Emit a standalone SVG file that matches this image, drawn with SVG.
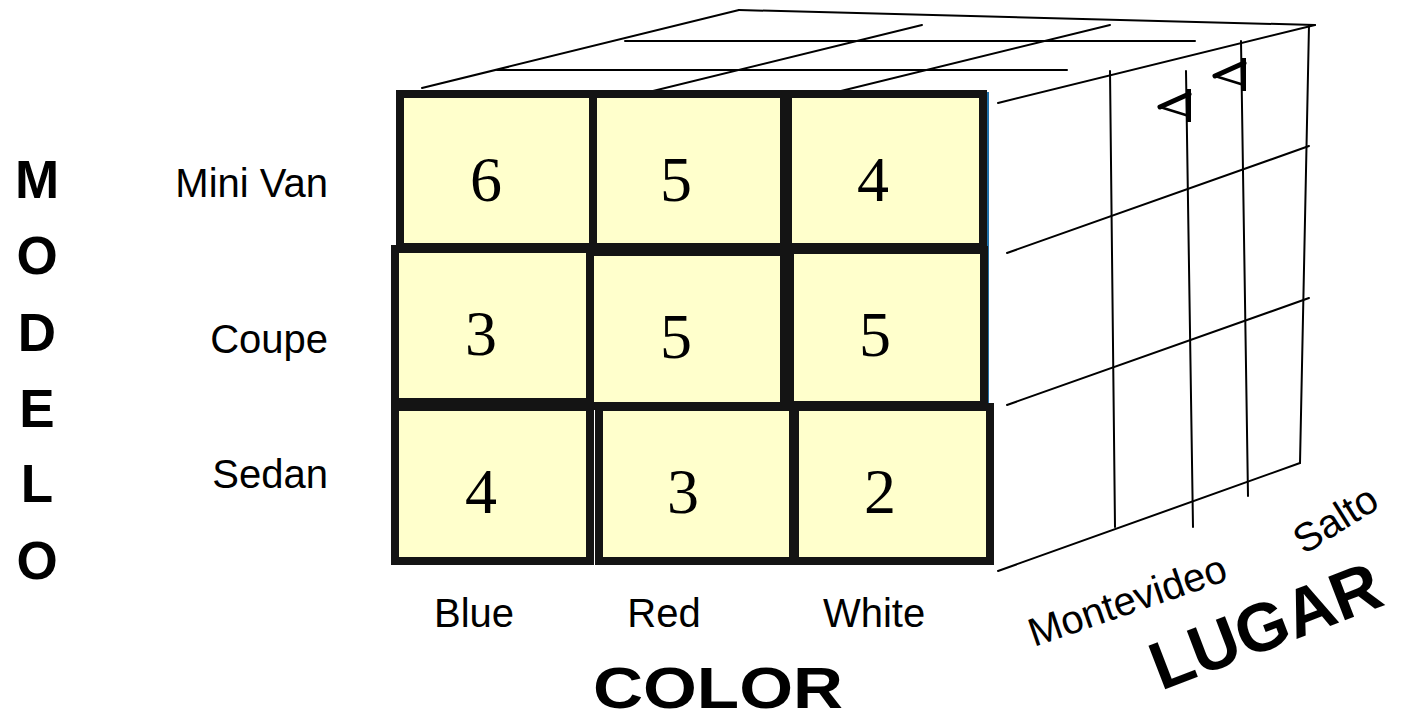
<svg xmlns="http://www.w3.org/2000/svg" width="1404" height="721" viewBox="0 0 1404 721">
<style>
.cell{fill:#FFFFCC;stroke:#141414;stroke-width:8}
.num{font-family:"Liberation Serif","Times New Roman",serif;font-size:64px;fill:#000;text-anchor:middle}
.lbl{font-family:"Liberation Sans",Arial,sans-serif;font-size:40px;fill:#000}
.big{font-family:"Liberation Sans",Arial,sans-serif;font-weight:bold;fill:#000}
.ln{stroke:#000;stroke-width:2;fill:none;stroke-linecap:round}
</style>
<rect width="1404" height="721" fill="#fff"/>
<g id="cube-lines">
<line class="ln" x1="422" y1="88" x2="739" y2="10"/>
<line class="ln" x1="739" y1="10" x2="1315" y2="25"/>
<line class="ln" x1="497" y1="70" x2="1067" y2="70"/>
<line class="ln" x1="625" y1="41" x2="1195" y2="41"/>
<line class="ln" x1="604" y1="103" x2="922" y2="25"/>
<line class="ln" x1="792" y1="103" x2="1110" y2="25"/>
<line class="ln" x1="998" y1="103" x2="1315" y2="25"/>
<line class="ln" x1="1007" y1="253" x2="1309" y2="146"/>
<line class="ln" x1="1007" y1="405" x2="1309" y2="298"/>
<line class="ln" x1="998" y1="571" x2="1300" y2="463"/>
<line class="ln" x1="1110" y1="71" x2="1115" y2="527"/>
<line class="ln" x1="1186" y1="71" x2="1193" y2="527"/>
<line class="ln" x1="1241" y1="41" x2="1248" y2="496"/>
<line class="ln" x1="1309" y1="25" x2="1300" y2="463"/>
</g>
<g id="marks">
<line x1="1160" y1="107" x2="1189" y2="94" stroke="#000" stroke-width="5" stroke-linecap="round"/>
<line x1="1160" y1="107" x2="1189" y2="116" stroke="#000" stroke-width="2.5"/>
<line x1="1189" y1="89" x2="1189" y2="122" stroke="#000" stroke-width="4"/>
<line x1="1215" y1="76" x2="1244" y2="63" stroke="#000" stroke-width="5" stroke-linecap="round"/>
<line x1="1215" y1="76" x2="1244" y2="85" stroke="#000" stroke-width="2.5"/>
<line x1="1244" y1="58" x2="1244" y2="91" stroke="#000" stroke-width="4"/>
</g>
<line x1="988" y1="92" x2="988" y2="404" stroke="#1F6FA8" stroke-width="2"/>
<g id="cell-minivan-blue"><rect class="cell" x="400" y="94" width="194" height="153"/><text class="num" x="486" y="201">6</text></g>
<g id="cell-minivan-red"><rect class="cell" x="593" y="94" width="191" height="153"/><text class="num" x="676" y="201">5</text></g>
<g id="cell-minivan-white"><rect class="cell" x="788" y="94" width="195" height="153"/><text class="num" x="873" y="201">4</text></g>
<g id="cell-coupe-blue"><rect class="cell" x="395" y="249" width="195" height="153"/><text class="num" x="481" y="355">3</text></g>
<g id="cell-coupe-red"><rect class="cell" x="590" y="252" width="194" height="154"/><text class="num" x="676" y="358">5</text></g>
<g id="cell-coupe-white"><rect class="cell" x="790" y="250" width="194" height="155"/><text class="num" x="875" y="356">5</text></g>
<g id="cell-sedan-blue"><rect class="cell" x="395" y="407" width="195" height="154"/><text class="num" x="481" y="513">4</text></g>
<g id="cell-sedan-red"><rect class="cell" x="599" y="407" width="194" height="154"/><text class="num" x="683" y="513">3</text></g>
<g id="cell-sedan-white"><rect class="cell" x="795" y="407" width="195" height="154"/><text class="num" x="880" y="513">2</text></g>
<g id="row-labels">
<text class="lbl" x="328" y="197" text-anchor="end">Mini Van</text>
<text class="lbl" x="328" y="353" text-anchor="end">Coupe</text>
<text class="lbl" x="328" y="488" text-anchor="end">Sedan</text>
</g>
<g id="col-labels">
<text class="lbl" x="474" y="627" text-anchor="middle">Blue</text>
<text class="lbl" x="664" y="627" text-anchor="middle">Red</text>
<text class="lbl" x="874" y="627" text-anchor="middle">White</text>
</g>
<g id="lugar-labels">
<text class="lbl" font-size="41" transform="translate(1034,647) rotate(-19)">Montevideo</text>
<text class="lbl" font-size="38" transform="translate(1304,555) rotate(-32)">Salto</text>
</g>
<g id="axis-titles">
<text class="big" font-size="53" text-anchor="middle"><tspan x="37" y="198">M</tspan><tspan x="37" y="274">O</tspan><tspan x="37" y="351">D</tspan><tspan x="37" y="427">E</tspan><tspan x="37" y="502">L</tspan><tspan x="37" y="579">O</tspan></text>
<text class="big" font-size="57" x="718" y="708" text-anchor="middle" textLength="250" lengthAdjust="spacingAndGlyphs">COLOR</text>
<text class="big" font-size="68" transform="translate(1161,691) rotate(-21)">LUGAR</text>
</g>
</svg>
